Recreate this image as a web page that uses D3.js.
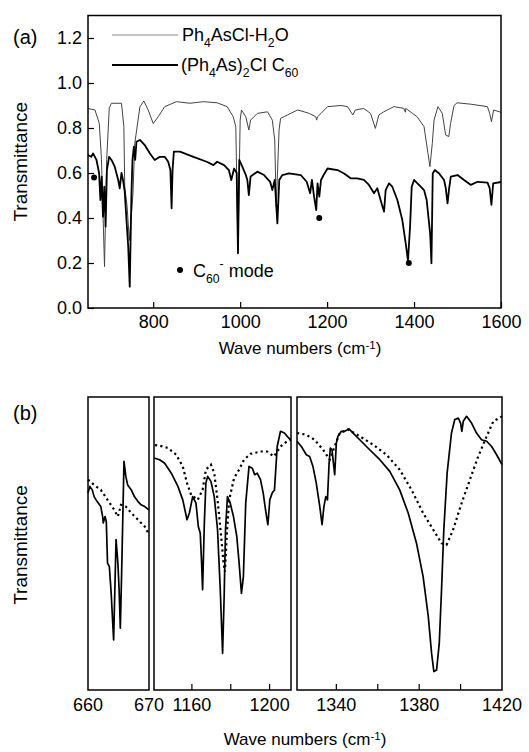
<!DOCTYPE html>
<html>
<head>
<meta charset="utf-8">
<script src="https://cdn.jsdelivr.net/npm/d3@7"></script>
<style>
  body { margin: 0; background: #fff; }
  svg { display: block; font-family: "Liberation Sans", Arial, sans-serif; }
</style>
</head>
<body>
<div id="chart"></div>
<script>
// ---- panel (a) data: [wave number, transmittance] ----
const hydrateSpec = [
  [650,.887],[666,.88],[676,.82],[681,.66],[688,.184],[693,.66],[699,.89],[704,.91],
  [727,.91],[732.5,.806],[734.5,.54],[740,.45],[745,.3],[750,.42],[753.5,.51],[757.5,.73],
  [769.5,.895],[778.5,.92],[788.5,.88],[800,.82],[811.5,.85],[826.5,.895],[853.5,.917],
  [884.5,.91],[915.5,.917],[947,.912],[970,.895],[984,.85],[990,.806],[995,.26],[1000,.835],
  [1003,.88],[1013,.85],[1020,.791],[1024,.835],[1039.5,.865],[1063,.872],[1074,.835],
  [1079.5,.747],[1083,.45],[1089.5,.791],[1093,.843],[1109,.858],[1132,.88],[1147,.872],
  [1159,.865],[1174,.85],[1176,.835],[1178,.85],[1186,.865],[1201,.895],[1232,.9],[1247,.895],
  [1259,.858],[1265,.88],[1284,.887],[1300,.865],[1311,.798],[1319,.858],[1330.5,.872],
  [1353.5,.895],[1376.6,.887],[1380,.87],[1381,.887],[1407,.85],[1423,.806],[1432,.687],
  [1436.5,.628],[1442,.732],[1446,.835],[1455,.895],[1465,.865],[1472.6,.769],[1480,.762],
  [1484,.82],[1492,.9],[1499,.912],[1530,.906],[1568.7,.895],[1574,.865],[1578,.828],
  [1583,.88],[1600,.87]
];
const saltSpec = [
  [650,.68],[657.5,.672],[661.5,.687],[669.5,.658],[675.5,.6],[678.5,.48],[681.5,.584],
  [684.5,.406],[687.5,.539],[690.5,.362],[693.5,.613],[698.5,.672],[704,.658],[711.5,.628],
  [719.5,.569],[723,.532],[727,.6],[730.5,.569],[734.5,.517],[738.5,.391],[742.5,.273],
  [746,.095],[750,.51],[752.3,.658],[755.5,.717],[758.5,.658],[761.5,.739],[769.5,.747],
  [780.5,.724],[792.5,.687],[803.5,.658],[815.5,.672],[826.5,.672],[834.5,.65],[839.5,.613],
  [842.3,.443],[844.5,.613],[847.5,.695],[861.5,.695],[892.5,.672],[923,.65],[938.5,.635],
  [947,.65],[963,.635],[974,.613],[979.6,.569],[986,.62],[992,.6],[995,.243],[998,.658],
  [1005,.628],[1013,.591],[1016.5,.569],[1020,.502],[1024,.584],[1039.5,.606],[1055,.591],
  [1069,.561],[1074,.524],[1079.5,.569],[1085.6,.376],[1090,.569],[1097,.591],[1112.5,.598],
  [1139.4,.591],[1153,.561],[1161,.51],[1165,.569],[1170,.495],[1175,.435],[1178,.554],
  [1182,.495],[1186,.569],[1192,.591],[1201,.62],[1224,.613],[1239,.598],[1255,.576],
  [1269,.576],[1284.7,.569],[1296.3,.547],[1307.8,.51],[1315.5,.532],[1323,.48],[1331,.428],
  [1334.7,.524],[1342.4,.554],[1350,.539],[1361.6,.48],[1373,.391],[1380.8,.287],[1386,.21],
  [1390.8,.361],[1394.6,.539],[1400,.569],[1407.7,.554],[1415.4,.539],[1423,.524],[1429,.48],
  [1437,.332],[1440,.199],[1443,.598],[1447.7,.613],[1457.7,.598],[1469,.569],[1473,.532],
  [1477,.465],[1480.7,.532],[1484.6,.584],[1500,.591],[1515,.569],[1530.7,.547],[1546,.561],
  [1569,.557],[1574,.532],[1578,.458],[1582,.554],[1600,.56]
];
const modeDots = [[664,.58],[1182,.40],[1388,.20]];
const aXTicks = [800, 1000, 1200, 1400, 1600];
const aYTicks = [0, 0.2, 0.4, 0.6, 0.8, 1.0, 1.2];

// ---- panel (b) data: [wave number, relative transmittance] ----
const bDomains = [[660, 670], [1140.5, 1211], [1321, 1420]];
const bTickMarks = [[], [1160, 1180, 1200], [1340, 1360, 1380, 1400]];
const bTickLabels = [[660, 670], [1160, 1200], [1340, 1380, 1420]];
const b1Solid = [
  [660,.672],[660.3,.695],[660.7,.683],[661,.66],[661.5,.643],[662.1,.626],[662.4,.592],
  [662.5,.57],[662.8,.592],[663,.575],[663.2,.433],[663.5,.421],[663.8,.33],[664,.25],
  [664.2,.171],[664.4,.342],[664.6,.513],[664.9,.433],[665.1,.342],[665.3,.211],[665.5,.387],
  [665.9,.78],[666.2,.729],[666.5,.70],[667.1,.683],[667.6,.66],[668.2,.643],[668.7,.632],
  [669.3,.626],[670,.615]
];
const b1Dotted = [
  [660,.718],[661,.70],[662.1,.683],[663.2,.649],[664.3,.615],[664.9,.592],[665.4,.632],
  [666.2,.626],[667.1,.604],[668.2,.581],[669.3,.558],[670,.53]
];
const b2Solid = [
  [1140.5,.792],[1143.4,.786],[1146,.774],[1149.4,.74],[1152.8,.695],[1155.3,.649],
  [1157.5,.581],[1158.7,.604],[1160.4,.66],[1162.1,.638],[1163.3,.558],[1164.3,.535],
  [1165,.433],[1165.5,.342],[1166.4,.569],[1167.2,.706],[1168.1,.729],[1169.8,.712],
  [1171.5,.66],[1173.2,.547],[1174.6,.342],[1175.8,.125],[1176.6,.319],[1177.3,.547],
  [1178.3,.66],[1179.7,.638],[1181.4,.592],[1183.1,.524],[1184.3,.433],[1185.5,.33],
  [1186.5,.387],[1187.7,.638],[1189.4,.763],[1191.1,.757],[1192.3,.735],[1193.6,.74],
  [1195.3,.718],[1196.7,.672],[1197.9,.615],[1199.1,.564],[1200.1,.649],[1201.3,.672],
  [1202.5,.683],[1203.9,.831],[1205.6,.883],[1207.6,.877],[1209.8,.86],[1211,.854]
];
const b2Dotted = [
  [1141,.836],[1143.4,.834],[1147.7,.826],[1151.9,.803],[1155.3,.763],[1157.5,.706],
  [1159.6,.666],[1163,.649],[1165.5,.683],[1167.2,.752],[1169.8,.769],[1171.5,.74],
  [1173.2,.649],[1174.9,.535],[1176.3,.433],[1177,.404],[1178,.535],[1179.2,.649],
  [1181.7,.723],[1184.3,.752],[1186.8,.786],[1190.2,.806],[1195.3,.814],[1198.7,.814],
  [1202.2,.797],[1205.6,.831],[1209,.849],[1211,.854]
];
const b3Solid = [
  [1321,.849],[1323.1,.831],[1325.5,.803],[1327.1,.797],[1328.7,.763],[1330.3,.706],
  [1332,.626],[1333.1,.564],[1334,.626],[1334.9,.66],[1335.7,.649],[1336.5,.774],
  [1337.1,.826],[1337.9,.82],[1338.4,.786],[1339.2,.735],[1340,.843],[1340.8,.866],
  [1342.4,.883],[1344,.883],[1346.1,.891],[1348.1,.877],[1351.3,.854],[1356.1,.82],
  [1361,.786],[1365.8,.746],[1370.6,.683],[1374.7,.604],[1378.7,.501],[1381.9,.387],
  [1384.4,.251],[1386,.125],[1387.1,.063],[1388.4,.068],[1389.7,.159],[1390.8,.342],
  [1391.9,.547],[1393.5,.74],[1395.6,.877],[1397.2,.923],[1398.9,.928],[1400,.911],
  [1400.6,.883],[1401.3,.917],[1402.9,.934],[1405.3,.911],[1407.7,.877],[1410.1,.854],
  [1412.6,.849],[1415,.831],[1417.4,.803],[1420,.769]
];
const b3Dotted = [
  [1321,.877],[1325.5,.871],[1329.5,.854],[1333.6,.82],[1336.8,.786],[1341.6,.877],
  [1345.7,.889],[1351.3,.866],[1357.8,.837],[1364.2,.803],[1370.6,.752],[1376.3,.683],
  [1381.9,.604],[1386.8,.547],[1390.8,.501],[1393.2,.495],[1396.4,.547],[1400.5,.638],
  [1404.5,.718],[1408.5,.797],[1412.6,.866],[1415.8,.917],[1420,.934]
];
const bSolids = [b1Solid, b2Solid, b3Solid];
const bDotteds = [b1Dotted, b2Dotted, b3Dotted];

const width = 529, height = 752;
const tickFont = 18;
const svg = d3.select("#chart").append("svg")
    .attr("width", width)
    .attr("height", height);

// text with sub/superscripts: parts = [[text, shift]], shift 0 normal, >0 sub, <0 sup
function richText(g, x, y, parts, size, anchor) {
    const t = g.append("text")
        .attr("x", x).attr("y", y)
        .attr("font-size", size)
        .attr("text-anchor", anchor || "start");
    let cur = 0;
    parts.forEach(([s, shift]) => {
        const target = shift * size * 0.32;
        t.append("tspan")
            .attr("dy", target - cur)
            .attr("font-size", shift ? size * 0.68 : size)
            .text(s);
        cur = target;
    });
    return t;
}

// ================= panel (a) =================
const ax = d3.scaleLinear().domain([650, 1600]).range([88, 501]);
const ay = d3.scaleLinear().domain([0, 1.3]).range([308, 15.5]);
const pa = svg.append("g");

const lineA = d3.line().x(d => ax(d[0])).y(d => ay(d[1]));

pa.append("path")
    .datum(hydrateSpec)
    .attr("d", lineA)
    .attr("fill", "none")
    .attr("stroke", "#444")
    .attr("stroke-width", 1);

pa.append("path")
    .datum(saltSpec)
    .attr("d", lineA)
    .attr("fill", "none")
    .attr("stroke", "#000")
    .attr("stroke-width", 1.8)
    .attr("stroke-linejoin", "round");

pa.selectAll("circle.mode")
    .data(modeDots)
    .join("circle")
    .attr("class", "mode")
    .attr("cx", d => ax(d[0]))
    .attr("cy", d => ay(d[1]))
    .attr("r", 3);

// frame
pa.append("rect")
    .attr("x", ax.range()[0]).attr("y", ay.range()[1])
    .attr("width", ax.range()[1] - ax.range()[0])
    .attr("height", ay.range()[0] - ay.range()[1])
    .attr("fill", "none").attr("stroke", "#000").attr("stroke-width", 1.5);

// axes, ticks inward
const xAxisA = d3.axisBottom(ax).tickValues(aXTicks).tickFormat(d3.format("d"))
    .tickSizeInner(-6).tickSizeOuter(0).tickPadding(7);
pa.append("g").attr("transform", `translate(0,${ay(0)})`).call(xAxisA)
    .call(g => g.select(".domain").remove())
    .call(g => g.selectAll("text").attr("font-size", tickFont).attr("font-family", "Liberation Sans, Arial, sans-serif").attr("fill", "#000"))
    .call(g => g.selectAll("line").attr("stroke-width", 1.2));

const yAxisA = d3.axisLeft(ay).tickValues(aYTicks).tickFormat(d3.format(".1f"))
    .tickSizeInner(-6).tickSizeOuter(0).tickPadding(6);
pa.append("g").attr("transform", `translate(${ax(650)},0)`).call(yAxisA)
    .call(g => g.select(".domain").remove())
    .call(g => g.selectAll("text").attr("font-size", tickFont).attr("font-family", "Liberation Sans, Arial, sans-serif").attr("fill", "#000"))
    .call(g => g.selectAll("line").attr("stroke-width", 1.2));

pa.append("text").attr("x", 13).attr("y", 44).attr("font-size", 20).text("(a)");

pa.append("text")
    .attr("transform", `translate(27,${ay(0.65)}) rotate(-90)`)
    .attr("text-anchor", "middle").attr("font-size", 19)
    .text("Transmittance");

richText(pa, 300, 354, [["Wave numbers (cm", 0], ["-1", -1], [")", 0]], 17, "middle");

// legend
pa.append("line").attr("x1", 112).attr("x2", 178).attr("y1", 35).attr("y2", 35)
    .attr("stroke", "#888").attr("stroke-width", 1);
pa.append("line").attr("x1", 112).attr("x2", 178).attr("y1", 65).attr("y2", 65)
    .attr("stroke", "#000").attr("stroke-width", 2);
richText(pa, 182, 41, [["Ph", 0], ["4", 1], ["AsCl-H", 0], ["2", 1], ["O", 0]], 18);
richText(pa, 181, 71, [["(Ph", 0], ["4", 1], ["As)", 0], ["2", 1], ["Cl C", 0], ["60", 1]], 18);

pa.append("circle").attr("cx", 180).attr("cy", 270).attr("r", 3);
richText(pa, 193, 277, [["C", 0], ["60", 1], ["-", -1.6], [" mode", 0]], 18);

// ================= panel (b) =================
const pb = svg.append("g");
const boxX = [[88, 149], [154, 291], [297, 502]];
const by = d3.scaleLinear().domain([0, 1]).range([690, 397]);

bDomains.forEach((dom, i) => {
    const bx = d3.scaleLinear().domain(dom).range(boxX[i]);
    const line = d3.line().x(d => bx(d[0])).y(d => by(d[1]));
    const g = pb.append("g");

    g.append("path").datum(bDotteds[i]).attr("d", line)
        .attr("fill", "none").attr("stroke", "#000")
        .attr("stroke-width", 2.2).attr("stroke-dasharray", "2.2,3.2");

    g.append("path").datum(bSolids[i]).attr("d", line)
        .attr("fill", "none").attr("stroke", "#000")
        .attr("stroke-width", 1.7).attr("stroke-linejoin", "round");

    g.append("rect")
        .attr("x", boxX[i][0]).attr("y", by(1))
        .attr("width", boxX[i][1] - boxX[i][0]).attr("height", by(0) - by(1))
        .attr("fill", "none").attr("stroke", "#000").attr("stroke-width", 1.5);

    g.selectAll("line.tk").data(bTickMarks[i]).join("line")
        .attr("class", "tk")
        .attr("x1", d => bx(d)).attr("x2", d => bx(d))
        .attr("y1", by(0)).attr("y2", by(0) - 6)
        .attr("stroke", "#000").attr("stroke-width", 1.2);

    g.selectAll("text.tl").data(bTickLabels[i]).join("text")
        .attr("class", "tl")
        .attr("x", d => bx(d)).attr("y", 711)
        .attr("text-anchor", "middle").attr("font-size", tickFont)
        .text(d => d);
});

pb.append("text").attr("x", 13).attr("y", 420).attr("font-size", 20).text("(b)");
pb.append("text")
    .attr("transform", `translate(27,545) rotate(-90)`)
    .attr("text-anchor", "middle").attr("font-size", 19)
    .text("Transmittance");
richText(pb, 305, 745, [["Wave numbers (cm", 0], ["-1", -1], [")", 0]], 17, "middle");
</script>
</body>
</html>
